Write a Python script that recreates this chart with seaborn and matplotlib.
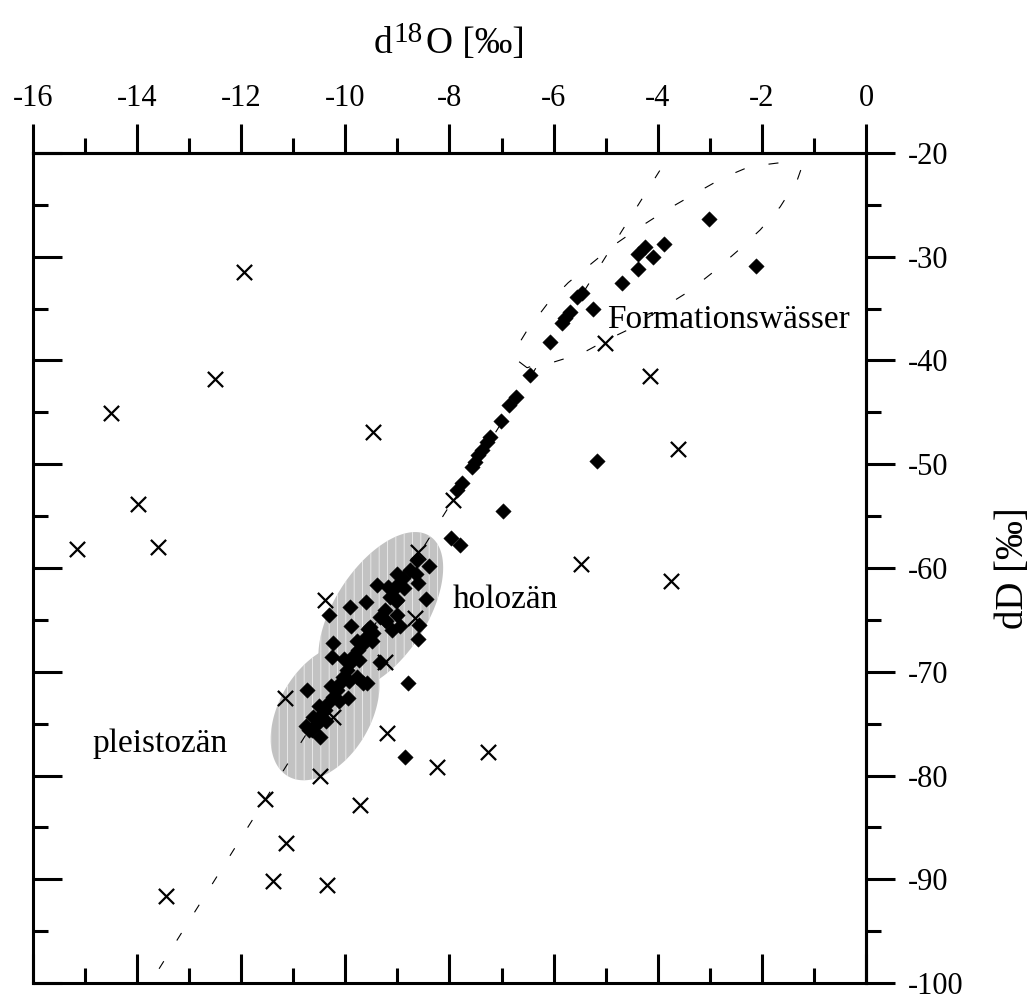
import numpy as np
import pandas as pd
import matplotlib
matplotlib.use("Agg")
import matplotlib.pyplot as plt
import seaborn as sns
from matplotlib.ticker import MultipleLocator, FixedLocator
from matplotlib.patches import Polygon

sns.set_style("ticks")
plt.rcParams["font.family"] = ["Liberation Serif", "DejaVu Serif"]
plt.rcParams["axes.unicode_minus"] = False
plt.rcParams["hatch.linewidth"] = 0.6
for k in ["text.color", "axes.labelcolor", "xtick.color", "ytick.color", "axes.edgecolor"]:
    plt.rcParams[k] = "black"

# ---------------- data ----------------
diamond_d18o = [
    -3.01, -2.11, -3.88, -4.24, -4.38, -4.09, -4.38, -4.69, -5.45, -5.55,
    -5.24, -5.68, -5.78, -5.84, -6.07, -6.45, -6.72, -6.85, -7.01, -7.22,
    -7.28, -7.37, -7.45, -7.51, -7.57, -7.76, -7.86, -5.17, -6.97, -7.97,
    -7.80,
    -8.39, -8.60, -8.45, -8.59, -8.60, -8.80, -8.85, -9.91, -9.60, -10.31,
    -9.89, -10.24, -10.26, -10.74, -9.95, -10.62, -10.70, -10.49, -9.58, -9.33,
    -8.63, -8.76, -8.89, -8.98, -9.08, -9.14, -9.01, -9.24, -9.33, -9.24,
    -9.53, -9.46, -9.59, -9.66, -9.75, -9.85, -9.91, -9.97, -9.78, -10.04,
    -10.10, -10.17, -9.66, -10.23, -10.33, -10.39, -10.49, -10.55, -10.65, -9.40,
    -8.65, -8.87, -9.03, -9.22, -9.48, -9.74, -9.93, -10.12, -10.38,
    -9.00, -9.19, -9.57, -9.77, -10.02, -10.28, -10.50, -10.76,
    -9.00, -8.95, -9.10,
]
diamond_dD = [
    -26.4, -30.9, -28.8, -29.1, -29.7, -30.0, -31.2, -32.5, -33.5, -33.9,
    -35.0, -35.3, -35.9, -36.4, -38.2, -41.4, -43.5, -44.3, -45.8, -47.4,
    -47.9, -48.6, -49.1, -49.8, -50.3, -51.8, -52.5, -49.7, -54.5, -57.1,
    -57.8,
    -59.8, -61.4, -63.0, -65.5, -66.8, -71.1, -78.2, -63.8, -63.3, -64.5,
    -65.6, -67.2, -68.6, -71.8, -72.5, -74.4, -75.6, -76.3, -71.1, -69.1,
    -59.2, -60.2, -61.0, -61.5, -62.1, -62.8, -63.1, -64.0, -64.7, -65.0,
    -65.7, -66.3, -66.6, -67.3, -67.9, -68.5, -69.2, -69.8, -70.5, -70.5,
    -71.1, -71.8, -71.1, -72.4, -73.0, -73.7, -74.3, -75.0, -75.6, -61.6,
    -60.6, -61.9, -63.2, -65.1, -67.0, -68.9, -70.9, -72.8, -74.7,
    -60.6, -61.8, -65.9, -67.0, -68.8, -71.4, -73.3, -75.2,
    -64.5, -65.6, -66.0,
]

cross_d18o = [
    -11.95, -12.50, -14.50, -9.47, -13.98, -15.15, -13.60, -10.39, -8.60, -8.66,
    -9.24, -11.16, -10.24, -9.20, -10.49, -8.24, -7.26, -11.54, -9.72, -11.14,
    -11.39, -10.35, -13.45, -5.01, -4.15, -3.61, -7.93, -5.47, -3.74,
]
cross_dD = [
    -31.5, -41.8, -45.1, -46.9, -53.8, -58.2, -58.0, -63.1, -58.5, -64.8,
    -69.1, -72.5, -74.4, -75.9, -80.0, -79.2, -77.7, -82.3, -82.8, -86.5,
    -90.2, -90.6, -91.6, -38.3, -41.5, -48.5, -53.4, -59.6, -61.3,
]

# dashed outline of the "Formationswässer" field
outline_d18o = [
    -6.51, -6.72, -6.74, -6.62, -6.51, -6.13, -5.72, -5.26, -4.82, -4.30,
    -3.80, -3.28, -2.75, -2.23, -1.59, -1.25, -1.32, -1.65, -2.03, -2.48,
    -2.94, -3.42, -3.90, -4.47, -4.97, -5.45, -6.03, -6.45, -6.51,
]
outline_dD = [
    -40.7, -39.9, -39.2, -38.0, -37.1, -34.6, -32.5, -30.6, -28.8, -27.0,
    -25.4, -23.9, -22.4, -21.3, -20.9, -21.6, -22.6, -25.2, -27.4, -29.5,
    -31.5, -33.4, -34.9, -36.8, -38.0, -39.3, -40.2, -40.6, -40.7,
]

x_ticks = [-16, -14, -12, -10, -8, -6, -4, -2, 0]
y_ticks = [-100, -90, -80, -70, -60, -50, -40, -30, -20]
x_label_parts = ["d", "18", "O [‰]"]
y_label = "dD [‰]"
groups = ["Formationswässer", "holozän", "pleistozän"]

# ---------------- figure ----------------
W, H = 1035, 996
fig = plt.figure(figsize=(W / 100, H / 100), dpi=100)
L, R, T, B = 33, 866, 153, 983
ax = fig.add_axes([L / W, 1 - B / H, (R - L) / W, (B - T) / H])
ax.set_xlim(-16, 0)
ax.set_ylim(-100, -20)
px_x = (R - L) / 16.0
px_y = (B - T) / 80.0


def ellipse(cx, cy, a, b, ang):
    t = np.linspace(0, 2 * np.pi, 240)
    c, s = np.cos(np.radians(ang)), np.sin(np.radians(ang))
    dx = a * np.cos(t) * c - b * np.sin(t) * s
    dy = a * np.cos(t) * s + b * np.sin(t) * c
    return np.column_stack([cx + dx / px_x, cy + dy / px_y])


for (cx, cy, a, b, ang) in [(-9.32, -64.2, 90, 46, 57), (-10.39, -73.9, 74, 46, 60)]:
    poly = Polygon(ellipse(cx, cy, a, b, ang), closed=True, facecolor="#c2c2c2",
                   edgecolor="#eeeeee", linewidth=0, hatch="||", zorder=1)
    ax.add_patch(poly)

# meteoric water line and outline
gx = np.array([-16.0, 0.0])
ax.plot(gx, 8 * gx + 10, color="black", linewidth=0.8,
        linestyle=(0, (8, 22)), zorder=2)
ax.plot(outline_d18o, outline_dD, color="black", linewidth=0.8,
        linestyle=(0, (9, 22)), zorder=2)

df_d = pd.DataFrame({"d18O": diamond_d18o, "dD": diamond_dD})
df_x = pd.DataFrame({"d18O": cross_d18o, "dD": cross_dD})
sns.scatterplot(data=df_d, x="d18O", y="dD", marker="D", s=62, color="black",
                edgecolor="black", linewidth=0.3, ax=ax, zorder=3, legend=False)
sns.scatterplot(data=df_x, x="d18O", y="dD", marker="x", s=120, color="black",
                linewidth=1.6, ax=ax, zorder=3, legend=False)

ax.set_xlabel("")
ax.set_ylabel("")
ax.xaxis.set_major_locator(FixedLocator(x_ticks))
ax.yaxis.set_major_locator(FixedLocator(y_ticks))
ax.xaxis.set_minor_locator(MultipleLocator(1))
ax.yaxis.set_minor_locator(MultipleLocator(5))
ax.tick_params(which="major", direction="in", length=21, width=2.2,
               bottom=True, left=True, top=False, right=False,
               labelbottom=False, labelleft=False)
ax.tick_params(which="minor", direction="in", length=11, width=2.2,
               bottom=True, left=True, top=False, right=False)
for sp in ax.spines.values():
    sp.set_visible(True)
    sp.set_linewidth(2.2)
    sp.set_color("black")

secx = ax.secondary_xaxis("top")
secx.set_xticks(x_ticks)
secx.xaxis.set_minor_locator(MultipleLocator(1))
secx.tick_params(which="major", direction="out", length=21, width=2.2,
                 labelsize=22, pad=8, colors="black")
secx.tick_params(which="minor", direction="out", length=11, width=2.2)
secx.spines["top"].set_linewidth(2.2)

secy = ax.secondary_yaxis("right")
secy.set_yticks(y_ticks)
secy.yaxis.set_minor_locator(MultipleLocator(5))
secy.tick_params(which="major", direction="out", length=21, width=2.2,
                 labelsize=22, pad=9, colors="black")
secy.tick_params(which="minor", direction="out", length=11, width=2.2)
secy.spines["right"].set_linewidth(2.2)

# top label built from pieces: d, raised 18, O [‰]
renderer = fig.canvas.get_renderer()
sizes = [27, 21, 27]
raises = [0, 11, 0]
gaps = [1, 3, 0]
pieces = []
for txt, fs, rz in zip(x_label_parts, sizes, raises):
    t = fig.text(0, (H - 53 + rz) / H, txt, fontsize=fs, ha="left", va="baseline")
    pieces.append(t)
widths = [p.get_window_extent(renderer).width for p in pieces]
total = sum(widths) + sum(gaps[:-1])
x0 = 449 - total / 2
for p, w, g in zip(pieces, widths, gaps):
    p.set_x(x0 / W)
    x0 += w + g

fig.text(1013 / W, 1 - 568 / H, y_label, ha="center", va="center",
         rotation=90, fontsize=28)

ax.text(-4.97, -36.9, groups[0], fontsize=24, ha="left", va="baseline", zorder=4)
ax.text(-7.93, -63.9, groups[1], fontsize=24, ha="left", va="baseline", zorder=4)
ax.text(-14.85, -77.7, groups[2], fontsize=24, ha="left", va="baseline", zorder=4)

fig.savefig("out.png", dpi=100)
